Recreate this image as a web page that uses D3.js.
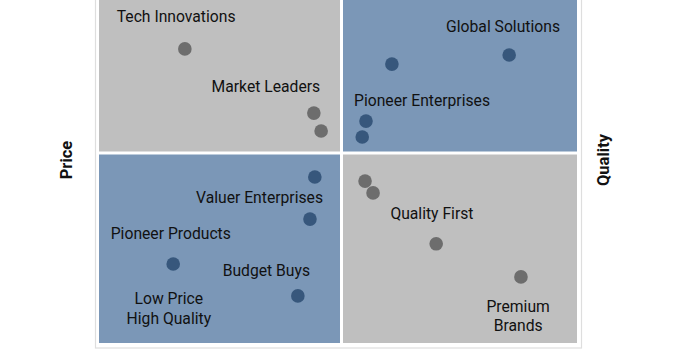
<!DOCTYPE html>
<html>
<head>
<meta charset="utf-8">
<script src="https://cdn.jsdelivr.net/npm/d3@7"></script>
<style>
  body { margin: 0; background: #fff; }
  text { font-family: Roboto, "Liberation Sans", sans-serif; }
</style>
</head>
<body>
<div id="wrapper"></div>
<script>
// company positions (x = quality score, y = price score, 0-100)
const companyX = [17.7, 44.3, 45.8, 60.7, 85.6, 55.2, 54.4, 44.5, 43.5, 15.3, 41.0, 55.0, 56.7, 70.1, 88.1];
const companyY = [77.4, 60.5, 55.8, 73.4, 75.8, 58.4, 54.2, 43.7, 32.6, 20.8, 12.4, 42.6, 39.5, 26.1, 17.4];

// annotation labels
const labelText = ["Tech Innovations", "Market Leaders", "Global Solutions", "Pioneer Enterprises",
    "Valuer Enterprises", "Pioneer Products", "Budget Buys", "Low Price|High Quality",
    "Quality First", "Premium|Brands"];
const labelX = [15.9, 34.4, 84.3, 67.1, 33.1, 14.8, 34.5, 14.4, 69.2, 87.5];
const labelY = [85.8, 67.4, 83.4, 63.7, 38.4, 28.7, 19.2, 11.6, 34.2, 9.7];

const axisTitles = ["Price", "Quality"];
const midValue = 50;

const dimensions = {
    width: 680,
    height: 350,
}

const wrapper = d3.select("#wrapper")
    .append("svg")
    .attr("width", dimensions.width)
    .attr("height", dimensions.height);

const xScaler = d3.scaleLinear()
    .domain([0, midValue, 100])
    .range([99, 341.5, 577]);

const yScaler = d3.scaleLinear()
    .domain([0, 100])
    .range([343, -37]);

// outer frame
wrapper.append("rect")
    .attr("x", 95.5)
    .attr("y", -5)
    .attr("width", 486)
    .attr("height", 353)
    .attr("fill", "#fff")
    .attr("stroke", "#dedede")
    .attr("stroke-width", 1.2);

// quadrants
const gap = 1.5;
const quads = [
    {x0: 0, x1: midValue, y0: midValue, y1: 100, fill: "#bfbfbf"},
    {x0: midValue, x1: 100, y0: midValue, y1: 100, fill: "#7b97b7"},
    {x0: 0, x1: midValue, y0: 0, y1: midValue, fill: "#7b97b7"},
    {x0: midValue, x1: 100, y0: 0, y1: midValue, fill: "#bfbfbf"},
];
wrapper.append("g")
    .selectAll("rect")
    .data(quads)
    .enter()
    .append("rect")
    .attr("x", d => xScaler(d.x0) + (d.x0 === midValue ? gap : 0))
    .attr("y", d => yScaler(d.y1) + (d.y1 === midValue ? gap : 0))
    .attr("width", d => xScaler(d.x1) - xScaler(d.x0) - gap)
    .attr("height", d => yScaler(d.y0) - yScaler(d.y1) - gap)
    .attr("fill", d => d.fill);

// dots: dark blue on blue quadrants, dark gray on gray ones
const dotColor = (x, y) => ((x < midValue) === (y < midValue)) ? "#37577c" : "#6d6d6d";
wrapper.append("g")
    .selectAll("circle")
    .data(d3.range(companyX.length))
    .enter()
    .append("circle")
    .attr("cx", i => xScaler(companyX[i]))
    .attr("cy", i => yScaler(companyY[i]))
    .attr("r", 6.8)
    .attr("fill", i => dotColor(companyX[i], companyY[i]));

// labels
const labels = wrapper.append("g")
    .selectAll("text")
    .data(d3.range(labelText.length))
    .enter()
    .append("text")
    .attr("x", i => xScaler(labelX[i]))
    .attr("y", i => yScaler(labelY[i]) + 5.5)
    .attr("text-anchor", "middle")
    .attr("font-size", "15.7px")
    .attr("fill", "#111");

labels.selectAll("tspan")
    .data(i => labelText[i].split("|").map(t => ({t, i})))
    .enter()
    .append("tspan")
    .attr("x", d => xScaler(labelX[d.i]))
    .attr("dy", (d, k) => k === 0 ? 0 : 19.5)
    .text(d => d.t);

// axis titles
wrapper.append("text")
    .attr("transform", "translate(72,160) rotate(-90)")
    .attr("text-anchor", "middle")
    .attr("font-size", "16.5px")
    .attr("font-weight", "bold")
    .attr("fill", "#111")
    .text(axisTitles[0]);

wrapper.append("text")
    .attr("transform", "translate(609,160) rotate(-90)")
    .attr("text-anchor", "middle")
    .attr("font-size", "16.5px")
    .attr("font-weight", "bold")
    .attr("fill", "#111")
    .text(axisTitles[1]);
</script>
</body>
</html>
